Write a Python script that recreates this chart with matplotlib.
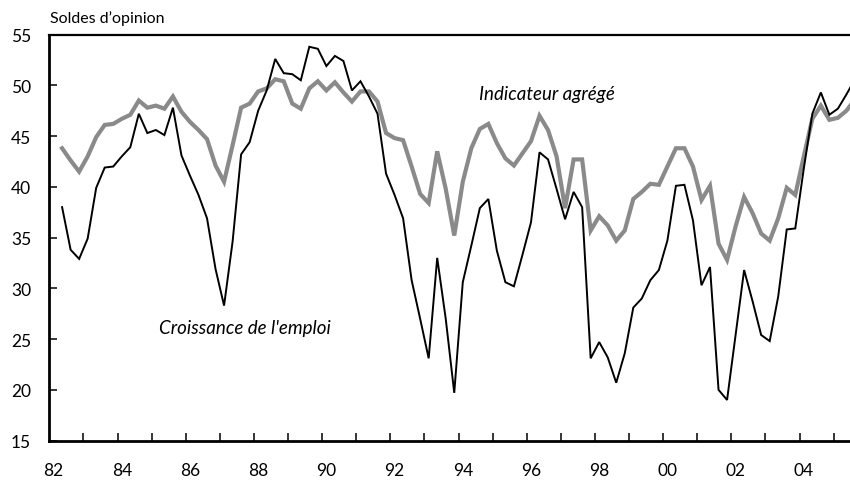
import numpy as np
import pandas as pd
import matplotlib
matplotlib.use('Agg')
import matplotlib.pyplot as plt

plt.rcParams['font.family'] = ['Lato', 'DejaVu Sans']

'''
Data (quarterly, from 1982Q2)
'''
quarters = pd.period_range('1982Q2', periods=94, freq='Q')

emploi = [38.0, 33.8, 32.9, 34.9, 39.9, 41.9, 42.0, 43.0, 43.9, 47.2,
          45.3, 45.6, 45.1, 47.8, 43.1, 41.1, 39.2, 36.9, 31.9, 28.3,
          34.6, 43.2, 44.4, 47.5, 49.5, 52.6, 51.2, 51.1, 50.5, 53.8,
          53.6, 51.9, 52.9, 52.4, 49.5, 50.4, 48.9, 47.2, 41.3, 39.2,
          36.9, 30.8, 27.0, 23.1, 33.0, 27.0, 19.7, 30.6, 34.2, 37.9,
          38.8, 33.7, 30.6, 30.2, 33.3, 36.5, 43.4, 42.7, 39.8, 36.8,
          39.5, 38.0, 23.1, 24.7, 23.2, 20.7, 23.6, 28.1, 29.0, 30.8,
          31.8, 34.7, 40.1, 40.2, 36.7, 30.3, 32.1, 20.0, 19.0, 25.4,
          31.8, 28.7, 25.4, 24.8, 29.2, 35.8, 35.9, 41.8, 47.2, 49.3,
          47.1, 47.7, 49.1, 50.6]

indicateur = [43.8, 42.6, 41.5, 43.0, 44.9, 46.1, 46.2, 46.7, 47.1, 48.5,
              47.8, 48.0, 47.7, 48.9, 47.4, 46.4, 45.6, 44.7, 42.1, 40.5,
              44.1, 47.8, 48.2, 49.4, 49.7, 50.6, 50.4, 48.2, 47.7, 49.7,
              50.4, 49.5, 50.3, 49.3, 48.4, 49.4, 49.4, 48.4, 45.3, 44.8,
              44.6, 42.0, 39.3, 38.4, 43.5, 39.8, 35.2, 40.5, 43.8, 45.7,
              46.2, 44.3, 42.8, 42.1, 43.3, 44.5, 47.0, 45.6, 43.0, 37.9,
              42.7, 42.7, 35.7, 37.1, 36.2, 34.7, 35.7, 38.8, 39.5, 40.3,
              40.2, 42.0, 43.8, 43.8, 42.0, 38.7, 40.1, 34.4, 32.8, 36.1,
              39.0, 37.4, 35.4, 34.7, 36.9, 39.9, 39.2, 43.0, 46.7, 48.0,
              46.6, 46.8, 47.5, 48.6]

year_labels = ['82', '84', '86', '88', '90', '92', '94', '96', '98', '00', '02', '04']

# mid-quarter position in decimal years
t = quarters.year + (quarters.quarter - 0.5) / 4.0

fig = plt.figure(figsize=(8.5, 4.81), dpi=100)
ax = fig.add_axes([0.058, 0.082, 0.942, 0.844])

ax.plot(t, indicateur, color='#8a8a8a', lw=3.0, zorder=2, solid_joinstyle='miter')
ax.plot(t, emploi, color='black', lw=1.4, zorder=3, solid_joinstyle='miter')

ax.set_xlim(1982.0, 2005.48)
ax.set_ylim(15, 55)

# yearly ticks, labels centred on first quarter of even years
ax.set_xticks(np.arange(1983, 2006))
ax.set_xticklabels([])
ax.set_xticks([1982.125 + 2 * i for i in range(len(year_labels))], minor=True)
ax.set_xticklabels(year_labels, minor=True)
ax.tick_params(axis='x', which='major', direction='in', length=6, width=1.1)
ax.tick_params(axis='x', which='minor', length=0, pad=15.5, labelsize=12.5)

ax.set_yticks(np.arange(15, 56, 5))
ax.tick_params(axis='y', direction='in', length=6, width=1.1, pad=13, labelsize=12.5)

for side in ['left', 'bottom']:
    ax.spines[side].set_linewidth(2.0)
ax.spines['top'].set_linewidth(1.6)
ax.spines['right'].set_visible(False)

fig.text(0.059, 0.962, 'Soldes d\u2019opinion', fontsize=11.5, ha='left', va='center')
ax.text(1996.6, 49.2, 'Indicateur agrégé', fontsize=13.5, style='italic', ha='center', va='center')
ax.text(1987.75, 26.1, "Croissance de l'emploi", fontsize=13.5, style='italic', ha='center', va='center')

fig.savefig('out.png', dpi=100)
